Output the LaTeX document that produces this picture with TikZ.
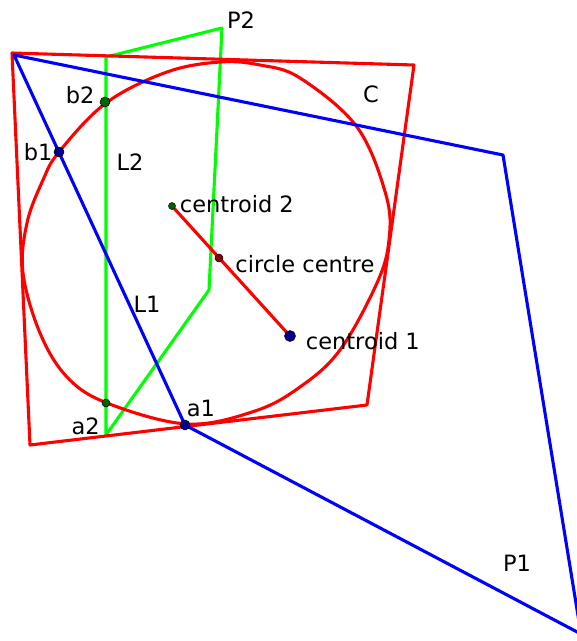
\documentclass[tikz,border=0pt]{standalone}
\usepackage{fontspec}
\setmainfont{DejaVu Sans}
\usepackage{tikz}
\usetikzlibrary{positioning}
\definecolor{polyred}{RGB}{255, 0, 0}
\definecolor{polyblue}{RGB}{0, 0, 255}
\definecolor{polygreen}{RGB}{0, 255, 0}
\definecolor{dotgreen}{RGB}{0, 100, 0}
\definecolor{dotblue}{RGB}{0, 0, 140}
\definecolor{dotred}{RGB}{140, 0, 0}

\begin{document}
\begin{tikzpicture}[
    x=1pt, y=-1pt,
    edge/.style={line width=3.1pt, line join=round},
    ptdot/.style={circle, draw=black, line width=0.5pt, inner sep=0pt, minimum size=#1},
    lbl/.style={font=\fontsize{22.5}{26}\selectfont, inner sep=0pt, text=black}
]
    \useasboundingbox (0,0) rectangle (577,641);
    \clip (0,0) rectangle (577,641);

    % polygon corners
    \coordinate (p1a) at (14,55);
    \coordinate (p1b) at (503,155);
    \coordinate (p1c) at (581,634);
    \coordinate (p1d) at (185,425);
    \coordinate (p2a) at (106,57);
    \coordinate (p2b) at (222,28);
    \coordinate (p2c) at (209,290);
    \coordinate (p2d) at (106,435);
    \coordinate (ca) at (12,53);
    \coordinate (cb) at (414,65);
    \coordinate (cc) at (367,405);
    \coordinate (cd) at (30,445);

    % P2
    \draw[edge, polygreen] (p2a) -- (p2b) -- (p2c) -- (p2d) -- cycle;

    % C and the circle
    \draw[edge, polyred] (ca) -- (cb) -- (cc) -- (cd) -- cycle;
    \draw[edge, polyred] plot[smooth cycle, tension=0.6] coordinates {
        (220,62) (260,65) (300,78) (357,127) (386,195) (389,240)
        (377,283) (340,350) (300,387) (255,411) (187,424) (107,403)
        (67,377) (40,333) (23,273) (27,223) (43,180) (59,152)
        (106,103) (167,72)};

    % P1
    \draw[edge, polyblue] (p1a) -- (p1b) -- (p1c) -- (p1d) -- cycle;

    % centroids
    \coordinate (cen2) at (172,206);
    \coordinate (cen1) at (290,336);
    \draw[edge, polyred] (cen2) -- (cen1);

    \node[ptdot=10pt, fill=dotgreen] (b2dot) at (105,102) {};
    \node[ptdot=10pt, fill=dotblue] (b1dot) at (59,152) {};
    \node[ptdot=7pt, fill=dotgreen] (c2dot) at (cen2) {};
    \node[ptdot=8pt, fill=dotred] (ccdot) at (219,258) {};
    \node[ptdot=11pt, fill=dotblue] (c1dot) at (cen1) {};
    \node[ptdot=8pt, fill=dotgreen] (a2dot) at (106,403) {};
    \node[ptdot=10pt, fill=dotblue] (a1dot) at (p1d) {};

    \node[lbl, left=5pt of b2dot, yshift=7pt] {b2};
    \node[lbl, left=1pt of b1dot] {b1};
    \node[lbl, left=6pt of p2d, yshift=9pt] {a2};
    \node[lbl, above right=4pt and -2pt of a1dot] {a1};
    \node[lbl, right=4pt of c2dot, yshift=2pt] {centroid 2};
    \node[lbl, right=12pt of ccdot, yshift=-6pt] {circle centre};
    \node[lbl, right=10pt of c1dot, yshift=-5pt] {centroid 1};

    \node[lbl] at (130,162) {L2};
    \node[lbl] at (147,304) {L1};
    \node[lbl] at (241,20) {P2};
    \node[lbl] at (371,94) {C};
    \node[lbl] at (517,563) {P1};
\end{tikzpicture}
\end{document}
